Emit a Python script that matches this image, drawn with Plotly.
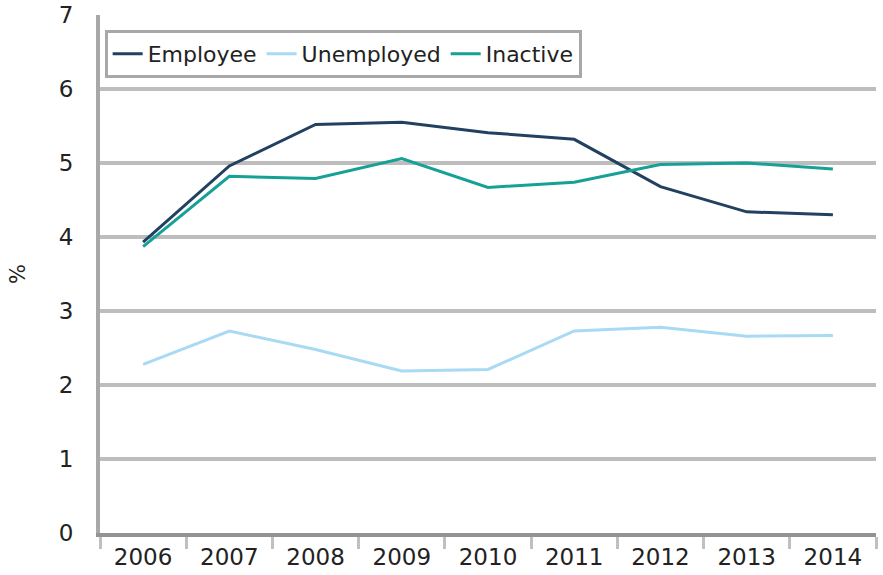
import plotly.graph_objects as go

years = ["2006", "2007", "2008", "2009", "2010", "2011", "2012", "2013", "2014"]
employee = [3.93, 4.96, 5.52, 5.55, 5.41, 5.32, 4.68, 4.34, 4.30]
unemployed = [2.28, 2.73, 2.48, 2.19, 2.21, 2.73, 2.78, 2.66, 2.67]
inactive = [3.87, 4.82, 4.79, 5.06, 4.67, 4.74, 4.98, 5.00, 4.92]
y_ticks = [0, 1, 2, 3, 4, 5, 6, 7]

series = [
    ("Employee", employee, "#22405f"),
    ("Unemployed", unemployed, "#a9daf3"),
    ("Inactive", inactive, "#17a096"),
]

fig = go.Figure()
for name, vals, col in series:
    fig.add_trace(go.Scatter(x=years, y=vals, name=name, mode="lines",
                             line=dict(color=col, width=3)))

fig.update_layout(
    width=883, height=575,
    margin=dict(l=100, r=7, t=15, b=42, autoexpand=False),
    plot_bgcolor="white", paper_bgcolor="white",
    font=dict(family="DejaVu Sans", size=22, color="#222222"),
    showlegend=True,
    legend=dict(orientation="h", x=0.006, y=0.971, xanchor="left", yanchor="top",
                bordercolor="#a8a8a8", borderwidth=3, bgcolor="white",
                font=dict(size=22), tracegroupgap=0, itemwidth=30),
    xaxis=dict(type="category", tickson="boundaries", ticks="outside",
               ticklen=12, tickwidth=3, tickcolor="#c0c0c0", automargin=False,
               showline=True, linecolor="#939393", linewidth=4,
               showgrid=False, tickfont=dict(size=23), range=[-0.5, 8.5]),
    yaxis=dict(range=[0, 7], tickvals=y_ticks, showgrid=True, automargin=False,
               gridcolor="#bdbdbd", gridwidth=4, zeroline=False,
               showline=True, linecolor="#a8a8a8", linewidth=4,
               ticks="", ticklabelstandoff=18, tickfont=dict(size=23),
               title=dict(text="%", font=dict(size=21), standoff=28)),
)

fig.write_html("out.html",
               config={"displayModeBar": False},
               post_script="document.body.style.margin='0';document.body.style.overflow='hidden';")
